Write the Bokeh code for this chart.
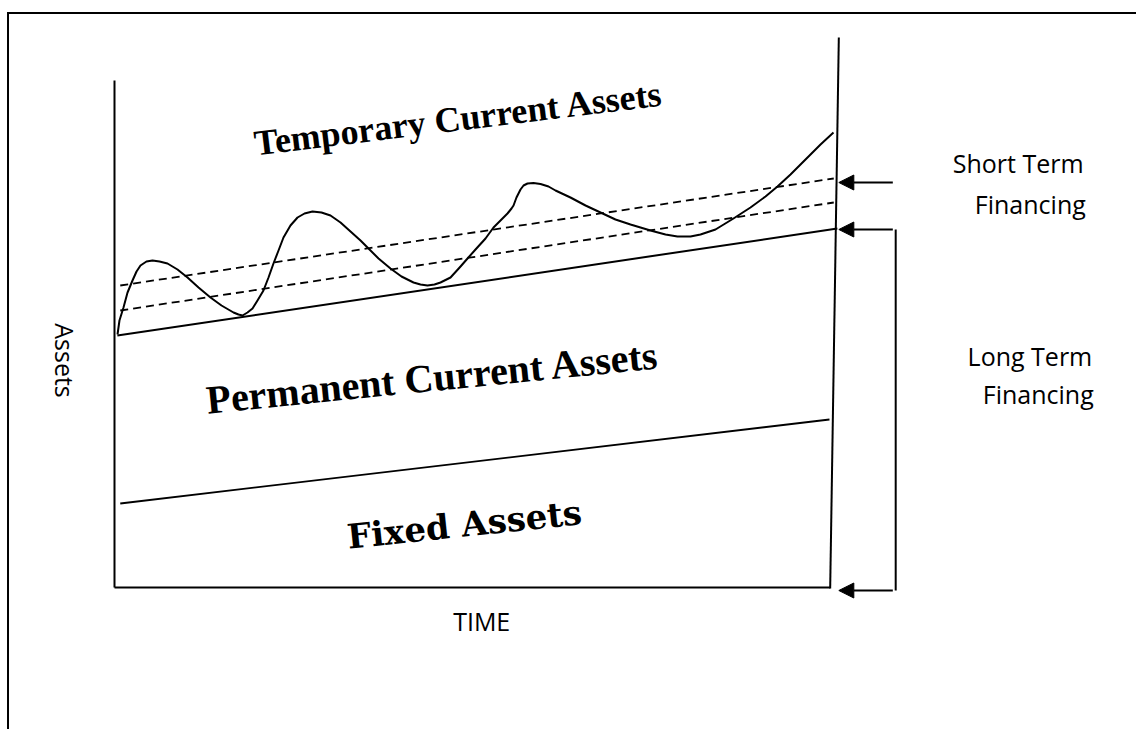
import numpy as np
from bokeh.plotting import figure
from bokeh.models import Range1d, Arrow, NormalHead
from bokeh.core.properties import value
from bokeh.embed import file_html
from bokeh.resources import INLINE

# ---- data (time units 0..10, asset units) ----
wave_time = [0.042, 0.069, 0.125, 0.181, 0.25, 0.306, 0.361, 0.444, 0.528, 0.625, 0.736,
             0.875, 1.014, 1.167, 1.333, 1.486, 1.653, 1.722, 1.778, 1.847, 1.917, 1.986,
             2.069, 2.139, 2.208, 2.278, 2.347, 2.444, 2.542, 2.639, 2.75, 2.875, 3.0,
             3.139, 3.278, 3.417, 3.514, 3.667, 3.833, 3.986, 4.153, 4.25, 4.347, 4.444,
             4.528, 4.667, 4.806, 4.903, 5.014, 5.153, 5.264, 5.361, 5.458, 5.514, 5.542,
             5.583, 5.639, 5.681, 5.736, 5.819, 5.917, 6.028, 6.125, 6.333, 6.542, 6.75,
             6.958, 7.167, 7.444, 7.653, 7.819, 8.0, 8.139, 8.347, 8.597, 8.833, 9.042,
             9.208, 9.389, 9.528, 9.667, 9.806, 9.986]
wave_assets = [50.6, 53.4, 56.0, 59.0, 61.4, 63.2, 64.4, 65.2, 65.4, 65.2, 64.8,
               63.6, 62.0, 60.0, 58.0, 56.4, 55.0, 54.6, 54.4, 55.0, 55.8, 57.4,
               59.4, 62.0, 64.8, 67.4, 70.0, 72.4, 74.0, 74.8, 75.2, 75.0, 74.4,
               73.0, 71.2, 69.4, 68.0, 65.8, 63.8, 62.2, 61.0, 60.6, 60.4, 60.6,
               61.0, 62.0, 64.2, 65.8, 67.6, 69.8, 72.0, 73.4, 74.8, 75.8, 76.4,
               78.0, 79.6, 80.4, 80.8, 80.9, 80.7, 80.2, 79.4, 78.0, 76.4, 75.0,
               73.6, 72.6, 71.4, 70.6, 70.2, 70.2, 70.6, 71.6, 73.8, 76.0, 78.2,
               80.2, 82.6, 84.6, 86.6, 88.6, 91.0]

permanent_time = [0.04, 10.04]
permanent_assets = [50.4, 71.8]
fixed_time = [0.08, 9.93]
fixed_assets = [16.8, 33.6]
dash_time = [0.08, 9.99]
dash_low = [55.4, 77.0]
dash_high = [60.4, 81.8]

axis_y_time = [0, 0]
axis_y_assets = [0, 101.4]
axis_x_time = [0, 9.94]
axis_x_assets = [0, 0]
edge_time = [10.06, 9.94]
edge_assets = [110.0, -0.2]

frame_top_time = [-1.479, 14.1944]
frame_top_assets = [114.9, 114.9]
frame_left_time = [-1.479, -1.479]
frame_left_assets = [115.1, -28.4]

arrow_levels = [81.0, 71.6, -0.6]
bracket_assets = [71.6, -0.6]

region_labels = ["Temporary Current Assets", "Permanent Current Assets", "Fixed Assets"]
axis_labels = ["Assets", "TIME"]
financing_labels = ["Short Term", "Financing", "Long Term", "Financing"]

# ---- figure ----
p = figure(width=1136, height=729, x_range=Range1d(-1.5833, 14.1944),
           y_range=Range1d(-28.4, 117.4), output_backend="svg",
           toolbar_location=None, min_border=0)
p.axis.visible = False
p.grid.visible = False
p.outline_line_color = None
p.background_fill_color = "white"
p.border_fill_color = "white"

# outer frame (top and left)
p.line(frame_top_time, frame_top_assets, line_color="black", line_width=2)
p.line(frame_left_time, frame_left_assets, line_color="black", line_width=2)

# axes
p.line(axis_y_time, axis_y_assets, line_color="black", line_width=2)
p.line(axis_x_time, axis_x_assets, line_color="black", line_width=2)
p.line(edge_time, edge_assets, line_color="black", line_width=2)

# lines
p.line(fixed_time, fixed_assets, line_color="black", line_width=1.8)
p.line(permanent_time, permanent_assets, line_color="black", line_width=2)
p.line(dash_time, dash_low, line_color="black", line_width=1.8, line_dash="8 5")
p.line(dash_time, dash_high, line_color="black", line_width=1.8, line_dash="8 5")
p.line(wave_time, wave_assets, line_color="black", line_width=2, line_join="round")

# arrows
for lvl in arrow_levels:
    p.add_layout(Arrow(end=NormalHead(size=15, fill_color="black", line_color="black"),
                       x_start=10.81, y_start=lvl, x_end=10.06, y_end=lvl,
                       line_color="black", line_width=2))
p.line([10.85, 10.85], bracket_assets, line_color="black", line_width=2)

# region labels
p.text(x=[4.78], y=[93.8], text=[region_labels[0]], angle=0.122,
       text_font=value("Liberation Serif"), text_font_style="bold",
       text_font_size="36px", text_align="center", text_baseline="middle", text_color="black")
p.text(x=[4.42], y=[42.0], text=[region_labels[1]], angle=0.1,
       text_font=value("Liberation Serif"), text_font_style="bold",
       text_font_size="40px", text_align="center", text_baseline="middle", text_color="black")
p.text(x=[4.86], y=[12.6], text=[region_labels[2]], angle=0.105,
       text_font=value("DejaVu Serif"), text_font_style="bold",
       text_font_size="34px", text_align="center", text_baseline="middle", text_color="black")

# axis labels
p.text(x=[-0.69], y=[45.4], text=[axis_labels[0]], angle=-np.pi / 2,
       text_font=value("Open Sans"), text_font_size="25px",
       text_align="center", text_baseline="middle", text_color="black")
p.text(x=[5.10], y=[-6.6], text=[axis_labels[1]], angle=0,
       text_font=value("Open Sans"), text_font_size="25px",
       text_align="center", text_baseline="middle", text_color="black")

# financing labels
p.text(x=[13.46, 13.49, 13.58, 13.6], y=[85.0, 76.8, 46.4, 38.8], text=financing_labels,
       text_font=value("Open Sans"), text_font_size="25px",
       text_align="right", text_baseline="alphabetic", text_color="black")

open("out.html", "w").write(file_html(p, INLINE))
